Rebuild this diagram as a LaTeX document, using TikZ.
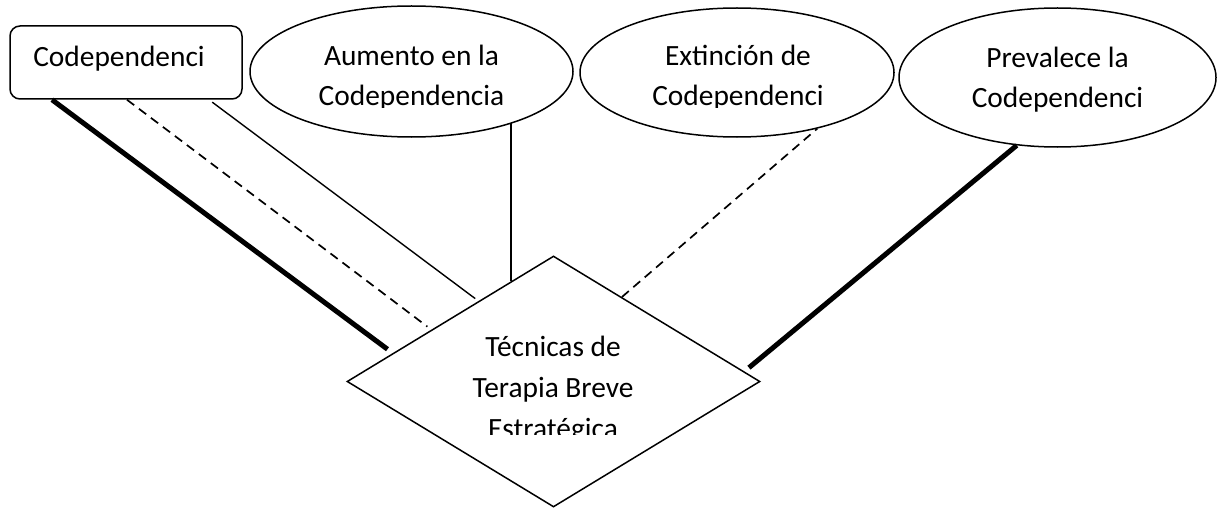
\documentclass[tikz,border=0pt]{standalone}
\usepackage{fontspec}
\setmainfont{Carlito}
\usetikzlibrary{calc}
\usetikzlibrary{shapes.geometric}
\usepackage{tikz}

\begin{document}
\begin{tikzpicture}[x=0.5pt,y=-0.5pt,
      font=\fontsize{14.7}{20}\selectfont,
      box style/.style={rectangle,draw=black,line width=0.75pt,rounded
        corners=5pt,inner sep=0pt},
      ell style/.style={ellipse,draw=black,line width=0.75pt,inner sep=0pt},
      dia style/.style={diamond,draw=black,line width=0.75pt,inner sep=0pt,
        minimum width=206.5pt,minimum height=125.5pt},
      txt style/.style={align=center,inner sep=0pt,anchor=base},
      thin link/.style={line width=0.7pt},
      dash link/.style={line width=0.85pt,dash pattern=on 4.5pt off 3pt},
      thick link/.style={line width=2.5pt}
      ]
      \useasboundingbox (0,0) rectangle (1225,508);

      \node[box style, minimum width=116pt, minimum height=36.5pt] (codep) at (126,62.5) {};
      \node[ell style, minimum width=161.5pt, minimum height=65.5pt] (aum) at (411.5,71.5) {};
      \node[ell style, minimum width=157pt, minimum height=64.5pt] (ext) at (737,72.5) {};
      \node[ell style, minimum width=158.5pt, minimum height=69.5pt] (prev) at (1057.5,77.5) {};
      \node[dia style] (tec) at (553.5,381.5) {};

      % text sits on the baseline of its last line
      \node[txt style] (codep text) at (119,67) {Codependenci};
      \begin{scope}
        \clip (300,0) rectangle (540,108);
        \node[txt style] (aum text) at (411.5,105) {Aumento en la\\Codependencia};
      \end{scope}
      \begin{scope}
        \clip (620,0) rectangle (860,107.5);
        \node[txt style] (ext text) at (738,105) {Extinción de\\Codependenci};
      \end{scope}
      \node[txt style] (prev text) at (1057.5,107) {Prevalece la\\Codependenci};
      \begin{scope}
        \clip (440,300) rectangle (670,434);
        \node[txt style, font=\fontsize{14.7}{20.5}\selectfont] (tec text) at (553,438)
          {Técnicas de\\Terapia Breve\\Estratégica};
      \end{scope}

      \draw[thick link, shorten >=3.3pt] ([xshift=-37pt]codep.south) -- (tec.170);
      \draw[dash link, shorten >=2.5pt] ([xshift=0.5pt]codep.south) -- (tec.157);
      \draw[thin link, shorten <=2pt, shorten >=2pt] ([xshift=41.5pt]codep.south) -- (tec.133);
      \draw[thin link] (tec.113) -- (tec.113 |- aum.-27);
      \draw[dash link] (tec.51.5) -- (ext.-35);
      \draw[thick link, shorten <=3pt] (tec.3.2) -- (prev.-121);
    \end{tikzpicture}
\end{document}
